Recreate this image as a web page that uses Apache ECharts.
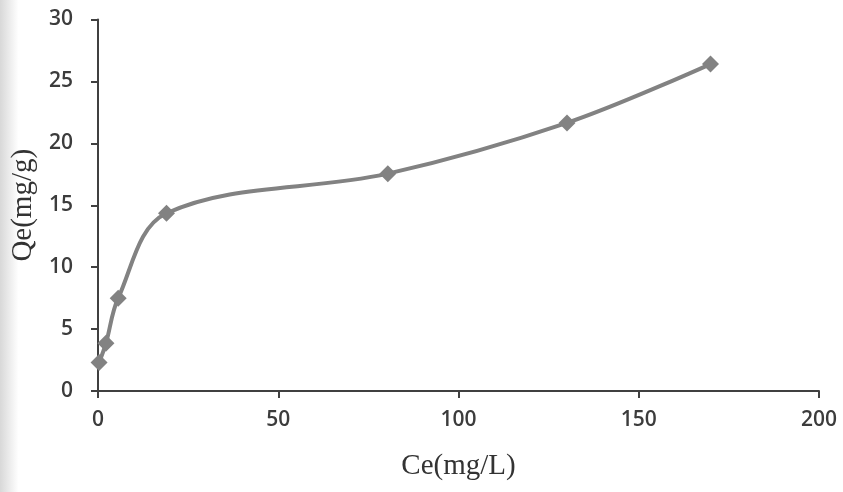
<!DOCTYPE html>
<html>
<head>
<meta charset="utf-8">
<script src="https://cdn.jsdelivr.net/npm/echarts@6/dist/echarts.min.js"></script>
<style>html,body{margin:0;padding:0;background:#fff}#c{width:843px;height:492px}</style>
</head>
<body>
<div id="c"></div>
<script>
const ceValues = [0.3, 2.2, 5.6, 19.0, 80.4, 130.1, 169.9];
const qeValues = [2.3, 3.85, 7.5, 14.35, 17.55, 21.65, 26.4];
const xTicks = [0, 50, 100, 150, 200];
const yTicks = [0, 5, 10, 15, 20, 25, 30];
const xTitle = 'Ce(mg/L)';
const yTitle = 'Qe(mg/g)';

const chart = echarts.init(document.getElementById('c'));
const axisColor = '#404040';
chart.setOption({
  backgroundColor: {
    type: 'linear', x: 0, y: 0, x2: 1, y2: 0,
    colorStops: [{offset: 0, color: '#d8d8d8'}, {offset: 0.022, color: '#ffffff'}, {offset: 1, color: '#ffffff'}]
  },
  animation: false,
  grid: {left: 98, right: 24, top: 19.5, bottom: 101, containLabel: false},
  xAxis: {
    type: 'value', min: xTicks[0], max: xTicks[xTicks.length - 1], interval: 50,
    name: xTitle, nameLocation: 'middle', nameGap: 61,
    nameTextStyle: {fontFamily: 'Liberation Serif', fontSize: 29, color: '#333'},
    axisLine: {lineStyle: {color: axisColor, width: 2}},
    axisTick: {show: true, inside: false, length: 7, lineStyle: {color: axisColor, width: 2}},
    axisLabel: {margin: 19, fontFamily: 'Open Sans', fontWeight: 600, fontSize: 21, color: '#3c3c3c'},
    splitLine: {show: false}
  },
  yAxis: {
    type: 'value', min: yTicks[0], max: yTicks[yTicks.length - 1], interval: 5,
    name: yTitle, nameLocation: 'middle', nameGap: 58,
    nameTextStyle: {fontFamily: 'Liberation Serif', fontSize: 29, color: '#333'},
    axisLine: {show: true, lineStyle: {color: axisColor, width: 2}},
    axisTick: {show: true, inside: false, length: 7, lineStyle: {color: axisColor, width: 2}},
    axisLabel: {margin: 25, fontFamily: 'Open Sans', fontWeight: 600, fontSize: 21, color: '#3c3c3c'},
    splitLine: {show: false}
  },
  series: [{
    type: 'line',
    data: ceValues.map((x, i) => [x, qeValues[i]]),
    smooth: 0.35,
    symbol: 'diamond',
    symbolSize: 17,
    lineStyle: {color: '#828282', width: 4},
    itemStyle: {color: '#828282'}
  }]
});
</script>
</body>
</html>
